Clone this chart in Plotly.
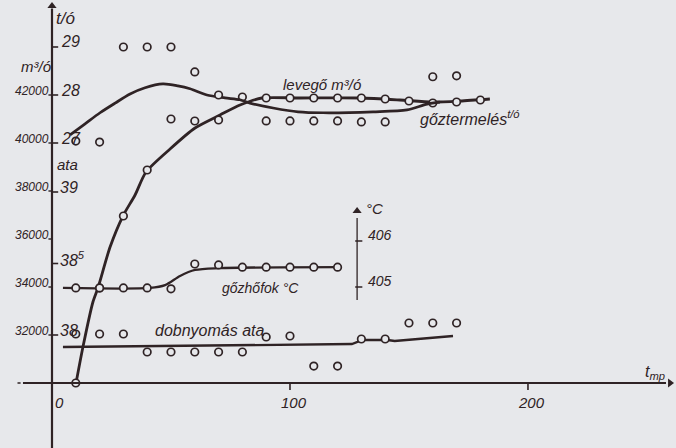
import plotly.graph_objects as go

# ---------------- data ----------------
# measurement times (mp)
t_meas = [10, 20, 30, 40, 50, 60, 70, 80, 90, 100, 110, 120, 130, 140, 150, 160, 170, 180]

# levegő m³/ó – fitted curve
lev_curve_t = [10.1, 13.0, 17.2, 19.3, 24.4, 29.8, 34.9, 39.5, 49.6, 60.1, 70.6, 79.0, 88.2,
               104.2, 129.4, 146.2, 159.7, 171.4, 184.0]
lev_curve_v = [30000, 31500, 33375, 33958, 35667, 36958, 37833, 38792, 39750, 40625, 41167, 41583, 41875,
               41875, 41875, 41792, 41708, 41750, 41833]
# levegő measured points
lev_pts_t = [10, 20, 30, 40, 50, 60, 70, 80, 90, 100, 110, 120, 130, 140, 150, 160, 170, 180]
lev_pts_v = [30000, 33958, 36958, 38875, 41000, 40917, 40958, 41917, 41875, 41875, 41875, 41875,
             41875, 41833, 41750, 41667, 41708, 41792]

# gőztermelés t/ó – fitted curve
goz_curve_t = [7.6, 13.9, 20.2, 26.5, 32.8, 39.1, 46.6, 52.9, 58.0, 65.1, 72.7, 79.0, 83.2,
               92.9, 103.4, 113.9, 134.9, 149.2, 157.6, 163.0]
goz_curve_v = [27.17, 27.40, 27.63, 27.83, 28.02, 28.15, 28.23, 28.19, 28.13, 28.00, 27.94, 27.90, 27.83,
               27.73, 27.65, 27.63, 27.65, 27.69, 27.81, 27.85]
# gőztermelés measured points
goz_pts_t = [10, 20, 30, 40, 50, 60, 70, 90, 100, 110, 120, 130, 140, 160, 170]
goz_pts_v = [27.04, 27.02, 29.0, 29.0, 29.0, 28.48, 28.0, 27.46, 27.46, 27.46, 27.46, 27.44, 27.44, 28.38, 28.40]

# gőzhőfok °C
hof_curve_t = [4.6, 41.2, 47.5, 53.8, 60.1, 70.2, 121.0]
hof_curve_v = [404.98, 404.98, 405.04, 405.24, 405.37, 405.41, 405.43]
hof_pts_t = [10, 20, 30, 40, 50, 60, 70, 80, 90, 100, 110, 120]
hof_pts_v = [404.98, 404.98, 404.98, 404.98, 404.96, 405.50, 405.48, 405.43, 405.43, 405.43, 405.43, 405.43]

# dobnyomás ata
dob_curve_t = [4.6, 126.0, 130.5, 141.0, 144.0, 168.5]
dob_curve_v = [37.916, 37.937, 37.965, 37.965, 37.958, 37.993]
dob_pts_t = [10, 20, 30, 40, 50, 60, 70, 80, 90, 100, 110, 120, 130, 140, 150, 160, 170]
dob_pts_v = [38.007, 38.007, 38.007, 37.881, 37.881, 37.881, 37.881, 37.881, 37.986, 37.993,
             37.783, 37.783, 37.972, 37.972, 38.084, 38.084, 38.084]

# tick labels
x_ticks = [0, 100, 200]
m3_ticks = [32000, 34000, 36000, 38000, 40000, 42000]
to_ticks = [27, 28, 29]
ata_ticks = [38, 38.5, 39]
ata_labels = ["38", "38<sup>5</sup>", "39"]
c_ticks = [405, 406]

# ---------------- style ----------------
BG = "#e7e8eb"
INK = "#2f2325"
FONT = "Liberation Sans"

X_RANGE = [-21.85, 262.2]
Y_M3 = [27291.7, 45958.3]
Y_TO = [20.646, 29.979]
Y_ATA = [37.2098, 40.3427]
Y_C = [401.5, 411.239]
C_AXIS_X = 128.2

fig = go.Figure()

def curve(x, y, ax, w, smooth=0.8):
    fig.add_trace(go.Scatter(x=x, y=y, yaxis=ax, mode="lines",
                             line=dict(color=INK, width=w, shape="spline", smoothing=smooth),
                             hoverinfo="skip"))

def pts(x, y, ax):
    fig.add_trace(go.Scatter(x=x, y=y, yaxis=ax, mode="markers",
                             marker=dict(symbol="circle", size=7.5, color=BG,
                                         line=dict(color=INK, width=1.7)),
                             hoverinfo="skip"))

curve(lev_curve_t, lev_curve_v, "y", 2.8, 0.7)
curve(goz_curve_t, goz_curve_v, "y2", 2.7, 0.8)
curve(hof_curve_t, hof_curve_v, "y4", 2.3, 0.8)
fig.add_trace(go.Scatter(x=dob_curve_t, y=dob_curve_v, yaxis="y3", mode="lines",
                         line=dict(color=INK, width=2.3), hoverinfo="skip"))
pts(lev_pts_t, lev_pts_v, "y")
pts(goz_pts_t, goz_pts_v, "y2")
pts(hof_pts_t, hof_pts_v, "y4")
pts(dob_pts_t, dob_pts_v, "y3")

# axis arrows
fig.add_trace(go.Scatter(x=[0], y=[45708], mode="markers",
                         marker=dict(symbol="triangle-up", size=8, color=INK), hoverinfo="skip"))
fig.add_trace(go.Scatter(x=[259.7], y=[30000], mode="markers",
                         marker=dict(symbol="triangle-right", size=8, color=INK), hoverinfo="skip"))
fig.add_trace(go.Scatter(x=[C_AXIS_X], y=[406.65], yaxis="y4", mode="markers",
                         marker=dict(symbol="triangle-up", size=8, color=INK), hoverinfo="skip"))

shapes = []
# main axes
shapes.append(dict(type="line", xref="x", yref="y", x0=0, x1=0, y0=Y_M3[0], y1=45600,
                   line=dict(color=INK, width=2.2)))
shapes.append(dict(type="line", xref="x", yref="y", x0=-12.2, x1=258, y0=30000, y1=30000,
                   line=dict(color=INK, width=2.2)))
shapes.append(dict(type="line", xref="x", yref="y", x0=-14.5, x1=-13.2, y0=30000, y1=30000,
                   line=dict(color=INK, width=1.5)))
# °C axis
shapes.append(dict(type="line", xref="x", yref="y4", x0=C_AXIS_X, x1=C_AXIS_X, y0=404.72, y1=406.5,
                   line=dict(color=INK, width=1.3)))
for v in c_ticks:
    shapes.append(dict(type="line", xref="x", yref="y4", x0=C_AXIS_X - 0.8, x1=C_AXIS_X + 2.2, y0=v, y1=v,
                       line=dict(color=INK, width=1.5)))
for v in to_ticks:
    shapes.append(dict(type="line", xref="x", yref="y2", x0=0, x1=2.6, y0=v, y1=v,
                       line=dict(color=INK, width=1.6)))
for v in ata_ticks:
    shapes.append(dict(type="line", xref="x", yref="y3", x0=0, x1=2.6, y0=v, y1=v,
                       line=dict(color=INK, width=1.6)))
for v in m3_ticks:
    shapes.append(dict(type="line", xref="x", yref="y", x0=-1.5, x1=0, y0=v, y1=v,
                       line=dict(color=INK, width=1.4)))
for v in x_ticks[1:]:
    shapes.append(dict(type="line", xref="x", yref="y", x0=v, x1=v, y0=30000, y1=29710,
                       line=dict(color=INK, width=1.6)))

ann = []
def txt(x, y, s, yref="y", size=14, xanchor="center", yanchor="middle", xshift=0, yshift=0):
    ann.append(dict(x=x, y=y, xref="x", yref=yref, text="<i>" + s + "</i>", showarrow=False,
                    xanchor=xanchor, yanchor=yanchor, xshift=xshift, yshift=yshift,
                    font=dict(family=FONT, size=size, color=INK)))

for v in m3_ticks:
    txt(0, v, f"{v}", "y", 12, "right", "middle", -1, 4)
for v in to_ticks:
    txt(0, v, f"{v}", "y2", 16, "left", "middle", 7, 5)
for v, s in zip(ata_ticks, ata_labels):
    txt(0, v, s, "y3", 16, "left", "middle", 6, 5)
for v in c_ticks:
    txt(C_AXIS_X, v, f"{v}", "y4", 14, "left", "middle", 9, 6)
for v in x_ticks:
    txt(v, 30000, f"{v}", "y", 15, "center", "top", 7 if v == 0 else 4, -9)

txt(0, 45200, "t/ó", "y", 17, "left", "middle", 2, 0)
txt(0, 43208, "m³/ó", "y", 15, "right", "middle", 1, 0)
txt(0, 39125, "ata", "y", 15, "left", "middle", 3, 0)
txt(C_AXIS_X, 406.7, "°C", "y4", 15, "left", "middle", 7, 0)
txt(253.4, 30458, "t<sub>mp</sub>", "y", 16, "center", "middle")
txt(113.4, 42458, "levegő m³/ó", "y", 15)
txt(175.6, 27.52, "gőztermelés<sup>t/ó</sup>", "y2", 16)
txt(87.4, 404.98, "gőzhőfok °C", "y4", 14)
txt(66.4, 38.03, "dobnyomás ata", "y3", 16)

fig.update_layout(
    width=676, height=448, margin=dict(l=0, r=0, t=0, b=0),
    paper_bgcolor=BG, plot_bgcolor=BG, showlegend=False,
    xaxis=dict(range=X_RANGE, visible=False, fixedrange=True),
    yaxis=dict(range=Y_M3, visible=False, fixedrange=True),
    yaxis2=dict(range=Y_TO, visible=False, overlaying="y", fixedrange=True),
    yaxis3=dict(range=Y_ATA, visible=False, overlaying="y", fixedrange=True),
    yaxis4=dict(range=Y_C, visible=False, overlaying="y", fixedrange=True),
    shapes=shapes, annotations=ann,
)

fig.write_html("out.html")
